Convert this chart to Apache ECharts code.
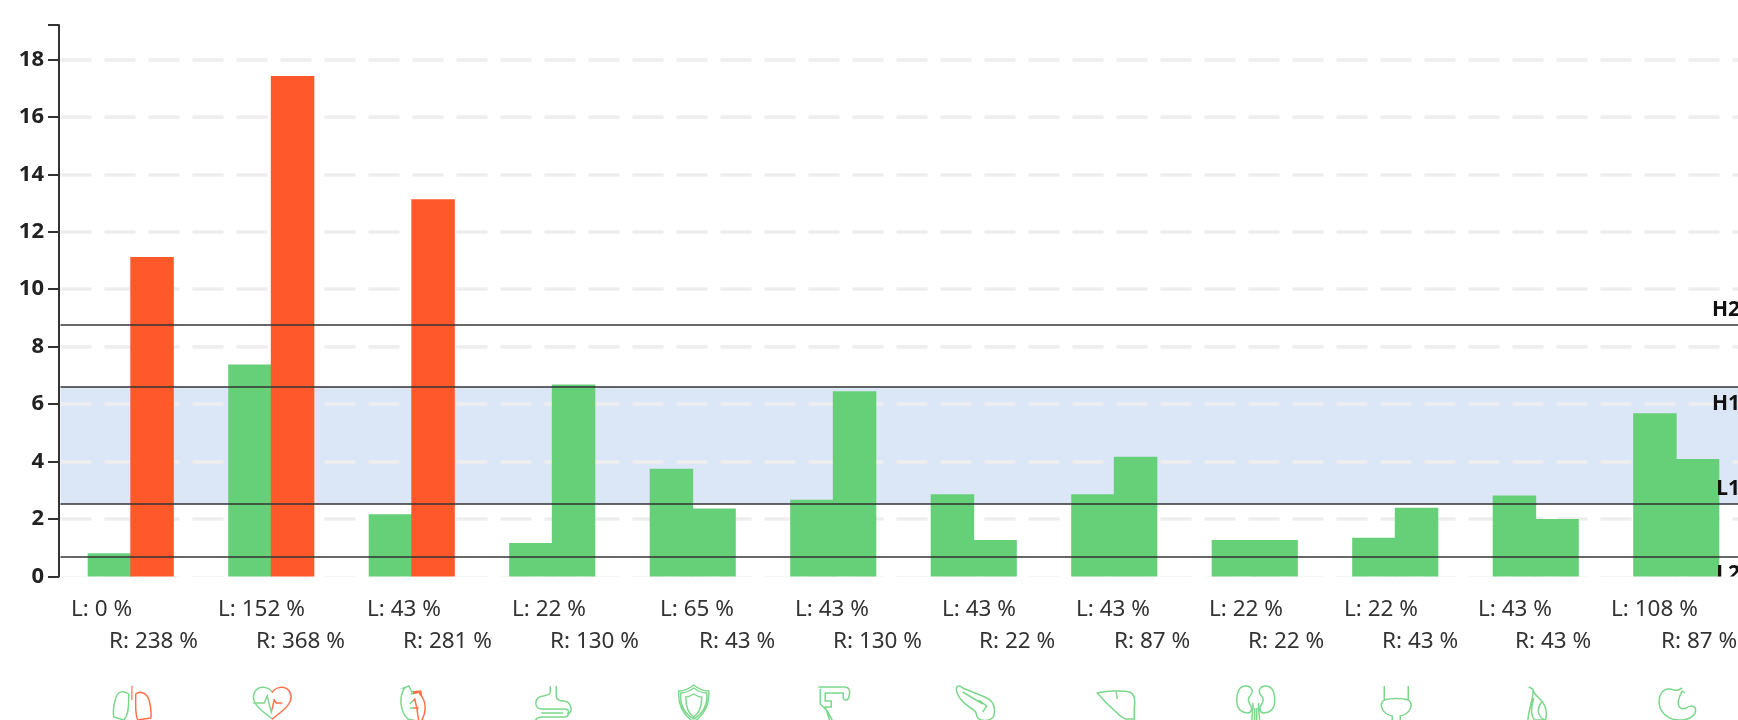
<!DOCTYPE html>
<html>
<head>
<meta charset="utf-8">
<style>
  html, body { margin: 0; padding: 0; width: 1738px; height: 720px; overflow: hidden; background: #fff; }
  #myChart { width: 1760px; height: 720px; }
</style>
<script src="https://cdn.jsdelivr.net/npm/echarts@6/dist/echarts.min.js"></script>
</head>
<body>
<div id="myChart"></div>
<script>
const organs = ['lungs', 'heart', 'cardio', 'intestine', 'immune', 'colon', 'pancreas', 'liver', 'kidney', 'bladder', 'gallbladder', 'stomach']
const leftValues = [0.81, 7.38, 2.16, 1.16, 3.75, 2.67, 2.86, 2.86, 1.27, 1.35, 2.82, 5.68]
const rightValues = [11.12, 17.42, 13.13, 6.68, 2.36, 6.45, 1.27, 4.17, 1.27, 2.39, 2.0, 4.09]
const leftPercent = [0, 152, 43, 22, 65, 43, 43, 43, 22, 22, 43, 108]
const rightPercent = [238, 368, 281, 130, 43, 130, 22, 87, 22, 43, 43, 87]
const refNames = ['H2', 'H1', 'L1', 'L2']
const refValues = [8.76, 6.6, 2.52, 0.68]

// labels under the bars are not aligned to the bands, so they keep their own x
const leftLabelX = [71, 218, 367, 512, 660, 795, 942, 1076, 1209, 1344, 1478, 1611]
const rightLabelX = [109, 256, 403, 550, 699, 833, 979, 1114, 1248, 1382, 1515, 1661]

const GREEN = '#66d078'
const RED = '#ff582b'

const iconPaths = {
  lungs: 'M0,0V14M-3,8C-8,4-14,5-16,12C-18,18-19,24-18,31L-8,34C-4,30-3,24-3,8ZM4,8C8,5 14,6 17,13C19,20 20,26 19,32L6,34C3,28 4,18 4,8Z',
  heart: 'M0,6C-4,1-12,-1-17,5C-22,13-16,20-10,25L0,33L10,25C16,20 22,13 17,5C12,-1 4,1 0,6ZM-19,17H-8L-5,10L-1,26L2,14L4,17H10',
  cardio: 'M-8,2C-14,10-13,25-5,33L8,36C14,27 14,15 7,8L8,5L-1,6L-4,0L-9,2ZM-2,8L8,6L9,11M-3,18L2,13L4,22L6,35M-3,22L6,22',
  intestine: 'M-3,0V6C-3,9-6,9-10,10C-19,11-20,22-12,23H11C17,23 17,30 11,31H-12C-20,32-20,40-12,40H12M3,0V10C3,14 6,15 11,15C19,16 20,29 14,27M-12,27H10',
  immune: 'M0,-1C-5,3-10,5-15,5C-16,18-12,28 0,36C12,28 16,18 15,5C10,5 5,3 0,-1ZM0,2C-4,5-9,7-13,7C-14,18-10,27 0,33C10,27 14,18 13,7C9,7 4,5 0,2ZM0,8C-3,10-6,11-8,11C-8,20-6,27 0,31C6,27 8,20 8,11C6,11 3,10 0,8Z',
  colon: 'M-16,1H10C15,1 16,4 15,10C14,15 10,15 9,12L9,7H-9L-9,15H-3L-3,21L-9,21L-4,36M-14,3L-14,18L-7,25L-1,36',
  pancreas: 'M-18,1C-16,-1-14,0-12,2L10,11C20,15 21,22 19,30C16,36 4,36 2,30C2,26 0,24-4,22C-12,17-20,8-18,1ZM-12,6L8,18M4,14L12,20L8,26',
  liver: 'M-18,7C-10,5 8,4 14,6C20,8 20,16 19,22L19,33L10,33C6,30 4,30 2,27C-4,22-12,14-18,7ZM1,6L2,13',
  kidney: 'M-10,0C-17,0-19,8-19,15C-19,24-13,27-8,27C-4,27-3,22-6,18C-8,14-8,12-5,9C-2,5-4,0-10,0ZM10,0C17,0 19,8 19,15C19,24 13,27 8,27C4,27 3,22 6,18C8,14 8,12 5,9C2,5 4,0 10,0ZM-3,17C-2,22-4,30-4,36M3,17C2,22 4,30 4,36M-1,22V36M1,22V36',
  bladder: 'M-12,0V14C-18,18-14,28-4,30V36M12,0V14C18,18 14,28 4,30V36M-12,14C-6,12 6,12 12,14',
  gallbladder: 'M-8,1L-4,3C-3,8 0,10 4,14C10,20 11,30 8,36M-4,3C-2,10-8,20-9,36M-3,12C-6,22-6,30-2,34L8,34C0,30 0,22 5,16',
  stomach: 'M-7,3C-15,2-19,10-18,18C-17,28-7,35 5,34C14,33 20,28 18,22C16,19 11,20 9,22C5,24 1,22 1,17C1,12 3,9 5,5L8,7M-7,3C-4,4-1,5 1,4L5,2'
}

function barColor (value) {
  return value > refValues[0] ? RED : GREEN
}

function iconStroke (i) {
  const a = barColor(leftValues[i])
  const b = barColor(rightValues[i])
  if (a === b) return a
  return {
    type: 'linear', x: 0, y: 0, x2: 1, y2: 0,
    colorStops: [
      { offset: 0, color: a }, { offset: 0.5, color: a },
      { offset: 0.5, color: b }, { offset: 1, color: b }
    ]
  }
}

const labelGraphics = []
organs.forEach((o, i) => {
  labelGraphics.push({
    type: 'text', x: leftLabelX[i], y: 610,
    style: { text: 'L: ' + leftPercent[i] + ' %', font: '22.5px "Noto Sans"', fill: '#333', verticalAlign: 'middle' }
  })
  labelGraphics.push({
    type: 'text', x: rightLabelX[i], y: 642,
    style: { text: 'R: ' + rightPercent[i] + ' %', font: '22.5px "Noto Sans"', fill: '#333', verticalAlign: 'middle' }
  })
})

const myChart = echarts.init(document.getElementById('myChart'), null, { renderer: 'canvas' })
myChart.setOption({
  animation: false,
  grid: { left: 60.5, top: 25, width: 1686, height: 551.4 },
  xAxis: {
    type: 'category',
    data: organs,
    axisLine: { show: false },
    axisTick: { show: false },
    axisLabel: { show: false }
  },
  yAxis: {
    type: 'value',
    min: 0,
    max: 19.2,
    interval: 2,
    offset: 1.5,
    axisLine: { show: true, lineStyle: { color: '#333', width: 2 } },
    axisTick: { show: true, length: 11, lineStyle: { color: '#333', width: 2 } },
    axisLabel: {
      margin: 15, color: '#222', fontFamily: 'Noto Sans', fontWeight: 'bold', fontSize: 22,
      // the top end of the axis has a tick but no number
      formatter: v => (v % 2 === 0 ? String(v) : '')
    },
    splitLine: {
      show: true, showMinLine: false, showMaxLine: false,
      lineStyle: { color: '#eeeeee', width: 3.5, type: [31, 13] }
    }
  },
  graphic: labelGraphics,
  series: [
    {
      name: 'band',
      type: 'line',
      data: [],
      z: -1,
      silent: true,
      markArea: {
        silent: true,
        z: -1,
        itemStyle: { color: '#dbe6f7' },
        data: [[{ yAxis: refValues[1] }, { yAxis: refValues[2] }]]
      },
      markLine: {
        silent: true,
        z: -1,
        symbol: 'none',
        label: { show: false },
        lineStyle: { color: '#f6f6f6', width: 1, type: [31, 13] },
        data: [{ yAxis: 0 }]
      }
    },
    {
      name: 'L',
      type: 'bar',
      barWidth: 43.5,
      barGap: '-2%',
      data: leftValues,
      itemStyle: { color: p => barColor(p.value) }
    },
    {
      name: 'R',
      type: 'bar',
      barWidth: 43.5,
      data: rightValues,
      itemStyle: { color: p => barColor(p.value) }
    },
    {
      name: 'lines',
      type: 'line',
      data: [],
      z: 5,
      silent: true,
      markLine: {
        silent: true,
        symbol: 'none',
        label: { show: false },
        lineStyle: { color: '#333', width: 1.6, type: 'solid' },
        data: refValues.map(v => ({ yAxis: v }))
      }
    },
    {
      name: 'refLabels',
      type: 'custom',
      z: 6,
      silent: true,
      data: refValues.map((v, i) => [i, v]),
      encode: { x: 0, y: 1 },
      renderItem (params, api) {
        const i = api.value(0)
        const y = api.coord([0, api.value(1)])[1]
        const zeroY = api.coord([0, 0])[1]
        // H1 and L2 sit under their line, the others above it
        const below = i % 2 === 1
        return {
          type: 'text',
          clipPath: { type: 'rect', shape: { x: 0, y: 0, width: 1760, height: zeroY } },
          style: {
            x: 1740,
            y: y + (below ? 17 : -15),
            text: refNames[i],
            font: 'bold 21px "Noto Sans"',
            fill: '#111',
            align: 'right',
            verticalAlign: 'middle'
          }
        }
      }
    },
    {
      name: 'icons',
      type: 'custom',
      silent: true,
      data: organs.map((o, i) => [i]),
      encode: { x: 0 },
      renderItem (params, api) {
        const i = api.value(0)
        return {
          type: 'path',
          x: api.coord([i, 0])[0] + 1,
          y: 686,
          shape: { pathData: iconPaths[organs[i]] },
          style: { fill: 'none', stroke: iconStroke(i), lineWidth: 1.5, opacity: 0.85 }
        }
      }
    }
  ]
})
</script>
</body>
</html>
